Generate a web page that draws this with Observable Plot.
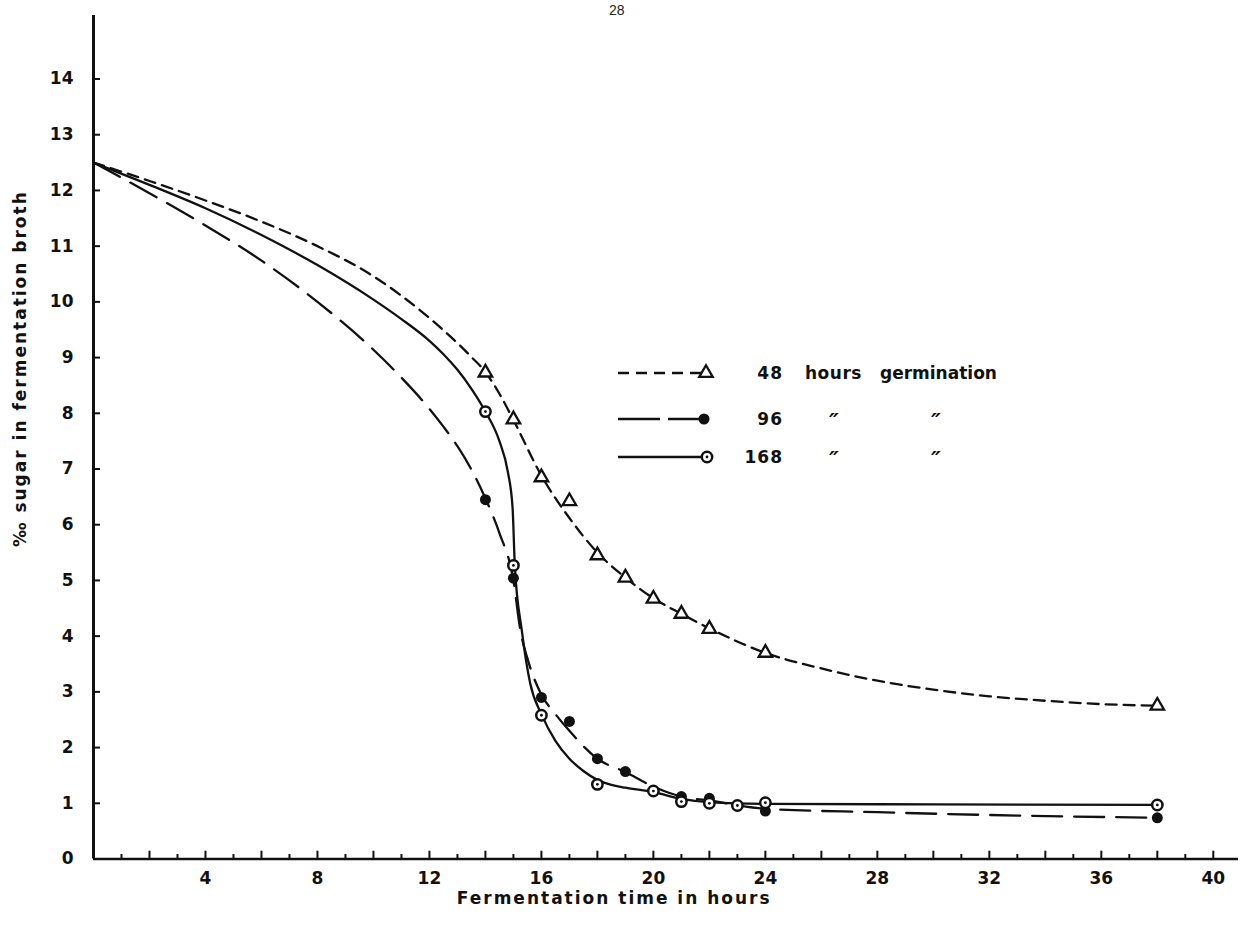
<!DOCTYPE html>
<html><head><meta charset="utf-8">
<script src="https://cdn.jsdelivr.net/npm/d3@7"></script>
<script src="https://cdn.jsdelivr.net/npm/@observablehq/plot@0.6"></script>
<style>
body{margin:0;background:#fff;}
#wrap{position:relative;width:1241px;height:927px;background:#fff;}
#pagenum{position:absolute;left:609px;top:2px;font:14px "Liberation Sans",Arial,sans-serif;color:#222;}
.axtitle text{letter-spacing:2px;}
</style></head>
<body><div id="wrap"><div id="pagenum">28</div></div>
<script>
// ---- measured points (markers) ----
const hours48 = [14, 15, 16, 17, 18, 19, 20, 21, 22, 24, 38];
const sugar48 = [8.73, 7.89, 6.85, 6.42, 5.45, 5.05, 4.67, 4.4, 4.13, 3.7, 2.75];
const hours96 = [14, 15, 16, 17, 18, 19, 21, 22, 24, 38];
const sugar96 = [6.45, 5.04, 2.9, 2.47, 1.8, 1.57, 1.12, 1.09, 0.86, 0.74];
const hours168 = [14, 15, 16, 18, 20, 21, 22, 23, 24, 38];
const sugar168 = [8.03, 5.27, 2.58, 1.34, 1.22, 1.03, 1.0, 0.96, 1.01, 0.97];

// ---- drawn curves ----
const curveHours48 = [0, 2, 4, 6, 8, 10, 11, 12, 12.5, 13, 13.5, 14, 14.5, 15, 16, 17, 18, 19, 20, 21, 22, 24, 26, 28, 30, 32, 34, 36, 38];
const curveSugar48 = [12.5, 12.17, 11.82, 11.44, 11.0, 10.46, 10.11, 9.71, 9.49, 9.26, 9.01, 8.74, 8.35, 7.88, 6.88, 6.12, 5.5, 5.05, 4.68, 4.4, 4.14, 3.7, 3.42, 3.2, 3.04, 2.92, 2.84, 2.78, 2.75];
const curveHours96 = [0, 2, 4, 6, 8, 10, 11, 12, 12.5, 13, 13.5, 14, 14.5, 15, 15.25, 15.5, 16, 16.5, 17, 18, 19, 20, 21, 22, 24, 28, 32, 38];
const curveSugar96 = [12.5, 11.95, 11.37, 10.74, 10.0, 9.14, 8.64, 8.08, 7.76, 7.41, 6.99, 6.47, 5.85, 5.0, 4.1, 3.6, 2.95, 2.6, 2.3, 1.8, 1.56, 1.3, 1.12, 1.05, 0.9, 0.84, 0.79, 0.74];
const curveHours168 = [0, 2, 4, 6, 8, 10, 11, 12, 12.5, 13, 13.5, 14, 14.5, 14.8, 14.97, 15.05, 15.3, 15.6, 16, 16.5, 17, 17.5, 18, 18.5, 19, 20, 21, 22, 24, 30, 38];
const curveSugar168 = [12.5, 12.1, 11.68, 11.2, 10.66, 10.04, 9.69, 9.3, 9.06, 8.78, 8.44, 8.03, 7.5, 6.95, 6.3, 5.27, 4.1, 3.15, 2.6, 2.12, 1.8, 1.58, 1.42, 1.33, 1.28, 1.2, 1.08, 1.02, 0.99, 0.98, 0.97];

// ---- axes ----
const yTicks = [0, 1, 2, 3, 4, 5, 6, 7, 8, 9, 10, 11, 12, 13, 14];
const xLabelTicks = [4, 8, 12, 16, 20, 24, 28, 32, 36, 40];
const xMinorTicks = d3.range(1, 41);
const xTitle = "Fermentation time in hours";
const yTitle = "\u2030 sugar in fermentation broth";

// ---- legend ----
const legendNumbers = ["48", "96", "168"];
const legendWords = [["hours", "germination"], ["\u2033", "\u2033"], ["\u2033", "\u2033"]];

const zip = (xs, ys) => xs.map((t, i) => ({t, v: ys[i]}));
const pts48 = zip(hours48, sugar48), pts96 = zip(hours96, sugar96), pts168 = zip(hours168, sugar168);
const c48 = zip(curveHours48, curveSugar48), c96 = zip(curveHours96, curveSugar96), c168 = zip(curveHours168, curveSugar168);

const ink = "#111";
const dash48 = "11,7", dash96 = "30,12";
const crv = "monotone-x";

const chart = Plot.plot({
  width: 1241, height: 927,
  marginLeft: 93, marginRight: 3, marginTop: 15, marginBottom: 68.5,
  x: {domain: [0, 40.9]},
  y: {domain: [0, 15.14]},
  style: {fontFamily: "DejaVu Sans", fontWeight: "bold", fontSize: "17px", color: ink, background: "white", overflow: "visible"},
  marks: [
    Plot.axisX({ticks: xLabelTicks, tickSize: 0, tickPadding: 13, label: null, tickFormat: d => String(d)}),
    Plot.axisY({ticks: yTicks, tickSize: 0, tickPadding: 20, label: null, tickFormat: d => String(d)}),
    Plot.ruleY(yTicks, {x1: 0, x2: 0.25, stroke: ink, strokeWidth: 2}),
    Plot.ruleX(xMinorTicks, {y1: 0, y2: d => d % 2 ? 0.08 : 0.14, stroke: ink, strokeWidth: 2}),
    Plot.ruleX([0], {stroke: ink, strokeWidth: 3}),
    Plot.ruleY([0], {stroke: ink, strokeWidth: 2.5}),
    Plot.text([xTitle], {x: () => 18.6, frameAnchor: "bottom", dy: 45, fontSize: 17, fontWeight: "bold", fill: ink, className: "axtitle"}),
    Plot.text([yTitle], {y: () => 5.6, frameAnchor: "left", dx: -73, rotate: -90, fontSize: 17, fontWeight: "bold", fill: ink, className: "axtitle"}),
    Plot.line(c48, {x: "t", y: "v", curve: crv, stroke: ink, strokeWidth: 2.3, strokeDasharray: dash48}),
    Plot.line(c96, {x: "t", y: "v", curve: crv, stroke: ink, strokeWidth: 2.3, strokeDasharray: dash96}),
    Plot.line(c168, {x: "t", y: "v", curve: crv, stroke: ink, strokeWidth: 2.3}),
    Plot.dot(pts48, {x: "t", y: "v", symbol: "triangle", r: 5, fill: "white", stroke: ink, strokeWidth: 2.3}),
    Plot.dot(pts96, {x: "t", y: "v", r: 5.5, fill: ink, stroke: "none"}),
    Plot.dot(pts168, {x: "t", y: "v", r: 5.2, fill: "white", stroke: ink, strokeWidth: 2.5}),
    Plot.dot(pts168, {x: "t", y: "v", r: 1.4, fill: ink, stroke: "none"})
  ]
});
document.getElementById("wrap").appendChild(chart);

// legend drawn inside the svg
const svg = d3.select(chart);
const lg = svg.append("g").attr("fill", ink).attr("stroke", ink).attr("text-anchor", "start");
const rowsY = [373, 419, 457];
const dashes = [dash48, "42,8", null];
const addText = (x, y, s, anchor, font, ls) =>
  lg.append("text").attr("x", x).attr("y", y).attr("dy", "0.36em").attr("text-anchor", anchor)
    .attr("stroke", "none").style("font", font).style("letter-spacing", ls).text(s);
rowsY.forEach((yy, i) => {
  lg.append("line").attr("x1", 618).attr("x2", 702).attr("y1", yy).attr("y2", yy)
    .attr("stroke-width", 2.3).attr("stroke-dasharray", dashes[i]);
  if (i === 0) {
    lg.append("path").attr("d", d3.symbol(d3.symbolTriangle, Math.PI * 25)()).attr("transform", `translate(706,${yy})`)
      .attr("fill", "white").attr("stroke-width", 2.3);
  } else if (i === 1) {
    lg.append("circle").attr("cx", 704).attr("cy", yy).attr("r", 5.5).attr("stroke", "none");
  } else {
    lg.append("circle").attr("cx", 707).attr("cy", yy).attr("r", 5.2).attr("fill", "white").attr("stroke-width", 2.5);
    lg.append("circle").attr("cx", 707).attr("cy", yy).attr("r", 1.4).attr("stroke", "none");
  }
  addText(783, yy, legendNumbers[i], "end", "bold 17px 'DejaVu Sans'", "1px");
  const w = legendWords[i];
  if (i === 0) {
    addText(805, yy, w[0], "start", "bold 17px 'DejaVu Sans'", "0.5px");
    addText(880, yy, w[1], "start", "bold 17px 'DejaVu Sans'", "0px");
  } else {
    addText(834, yy + 2, w[0], "middle", "italic bold 22px 'DejaVu Sans'", "0px");
    addText(936, yy + 2, w[1], "middle", "italic bold 22px 'DejaVu Sans'", "0px");
  }
});
</script>
</body></html>
